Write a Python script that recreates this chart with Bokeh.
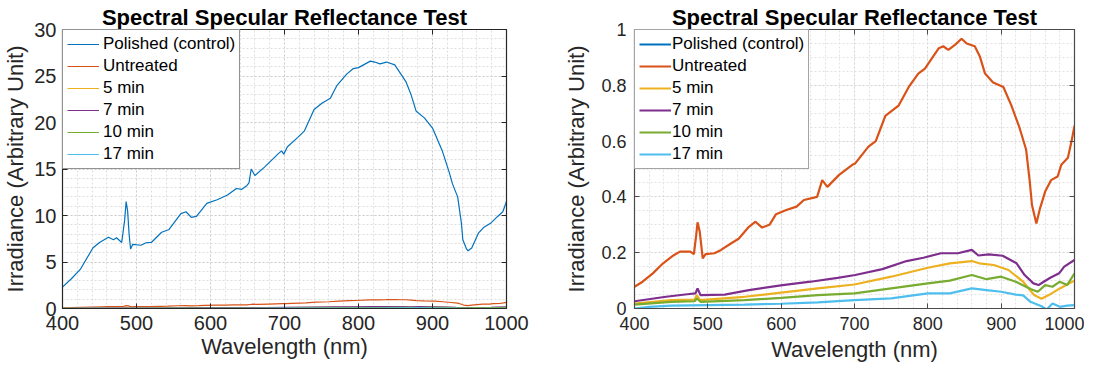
import numpy as np
from bokeh.plotting import figure
from bokeh.layouts import row
from bokeh.models import FixedTicker, LinearAxis, Range1d
from bokeh.embed import file_html
from bokeh.resources import INLINE

# ---------------- data ----------------
polished_wl = [400, 412, 424, 441, 450, 462, 469, 473, 480, 484, 486, 488, 490, 492, 495, 506, 513, 520,
               534, 544, 560, 567, 574, 581, 595, 609, 623, 635, 642, 649, 652, 655, 660, 673, 691, 696,
               699, 704, 718, 727, 740, 751, 762, 771, 784, 793, 800, 816, 822, 829, 838, 849, 864, 871,
               878, 889, 900, 913, 922, 927, 934, 939, 941, 946, 948, 953, 962, 969, 979, 988, 995, 1000]
polished = [2.3, 3.2, 4.2, 6.5, 7.1, 7.67, 7.4, 7.6, 7.1, 9.5, 11.5, 10.5, 8.0, 6.4, 6.9, 6.8, 7.07, 7.1,
            8.2, 8.5, 10.2, 10.4, 9.8, 9.9, 11.3, 11.7, 12.2, 12.9, 12.8, 13.2, 13.5, 15.0, 14.3, 15.2, 16.6, 16.95,
            16.6, 17.4, 18.4, 19.1, 21.4, 22.1, 22.6, 24.0, 25.2, 25.8, 25.9, 26.6, 26.5, 26.3, 26.5, 26.2, 24.4, 23.0,
            21.2, 20.5, 19.4, 17.0, 14.8, 13.4, 12.0, 9.2, 7.4, 6.4, 6.2, 6.5, 8.1, 8.7, 9.2, 9.9, 10.4, 11.5]

untreated_wl = [400, 411, 425, 439, 453, 462, 476, 481, 484, 486, 489, 493, 497, 509, 518, 532, 542, 556,
                565, 574, 584, 593, 607, 621, 631, 649, 656, 663, 679, 697, 701, 719, 729, 742, 760, 774,
                787, 796, 815, 821, 828, 837, 846, 853, 864, 871, 878, 889, 903, 914, 925, 934, 939, 942,
                948, 953, 960, 968, 977, 982, 991, 996, 1000]
untreated = [0.078, 0.096, 0.126, 0.162, 0.19, 0.204, 0.204, 0.195, 0.26, 0.309, 0.275, 0.18, 0.195, 0.198,
             0.21, 0.234, 0.25, 0.293, 0.311, 0.29, 0.30, 0.338, 0.353, 0.365, 0.389, 0.40, 0.46, 0.436, 0.479,
             0.515, 0.52, 0.58, 0.60, 0.69, 0.727, 0.794, 0.842, 0.86, 0.933, 0.94, 0.927, 0.945, 0.967, 0.95,
             0.94, 0.903, 0.842, 0.81, 0.794, 0.727, 0.648, 0.57, 0.455, 0.371, 0.305, 0.359, 0.419, 0.46,
             0.473, 0.515, 0.54, 0.60, 0.655]

min5_wl = [400, 450, 482, 485, 489, 550, 600, 650, 700, 750, 800, 830, 860, 870, 890, 910, 930, 945,
           955, 965, 980, 1000]
min5 = [0.018, 0.03, 0.032, 0.048, 0.03, 0.042, 0.057, 0.072, 0.086, 0.114, 0.146, 0.162, 0.17, 0.162,
        0.156, 0.138, 0.096, 0.048, 0.035, 0.048, 0.072, 0.10]

min7_wl = [400, 443, 472, 483, 486, 490, 523, 556, 602, 640, 677, 701, 738, 771, 794, 818, 841, 860,
           869, 883, 902, 921, 932, 944, 951, 958, 967, 979, 986, 1000]
min7 = [0.026, 0.042, 0.051, 0.054, 0.072, 0.048, 0.05, 0.066, 0.084, 0.096, 0.11, 0.12, 0.141, 0.17,
        0.182, 0.198, 0.198, 0.21, 0.19, 0.194, 0.189, 0.162, 0.12, 0.09, 0.084, 0.096, 0.11, 0.126, 0.15, 0.174]

min10_wl = [400, 450, 482, 485, 490, 550, 600, 650, 700, 750, 800, 830, 860, 880, 900, 920, 940, 950,
            960, 970, 980, 990, 1000]
min10 = [0.014, 0.024, 0.026, 0.036, 0.024, 0.03, 0.038, 0.048, 0.054, 0.072, 0.09, 0.10, 0.12, 0.105,
         0.114, 0.096, 0.07, 0.06, 0.084, 0.078, 0.096, 0.084, 0.126]

min17_wl = [400, 420, 450, 500, 550, 600, 650, 700, 750, 800, 830, 860, 880, 900, 920, 930, 940, 955,
            962, 970, 980, 990, 1000]
min17 = [0.0, 0.006, 0.01, 0.012, 0.014, 0.017, 0.022, 0.03, 0.036, 0.054, 0.054, 0.072, 0.066, 0.06,
         0.05, 0.047, 0.024, 0.008, -0.004, 0.018, 0.006, 0.01, 0.012]

names = ["Polished (control)", "Untreated", "5 min", "7 min", "10 min", "17 min"]
colors = ["#0072BD", "#D95319", "#EDB120", "#7E2F8E", "#77AC30", "#4DBEEE"]
series = [(polished_wl, polished), (untreated_wl, untreated), (min5_wl, min5),
          (min7_wl, min7), (min10_wl, min10), (min17_wl, min17)]

x_ticks = [400, 500, 600, 700, 800, 900, 1000]
y1_ticks = [0, 5, 10, 15, 20, 25, 30]
y2_ticks = [0, 0.2, 0.4, 0.6, 0.8, 1]
y2_labels = {0: "0", 0.2: "0.2", 0.4: "0.4", 0.6: "0.6", 0.8: "0.8", 1: "1"}

TITLE = "Spectral Specular Reflectance Test"
FONT = "Liberation Sans"
TXT = "#262626"


def build(width, height, borders, yrange, yticks, yminor, lw, tick_size, lab_size, leg_size,
          frame_color, grid_major, grid_minor, title_size, std, leg_standoff, ylabel_over=None):
    left, right, top, bottom = borders
    p = figure(width=width, height=height, output_backend="svg", toolbar_location=None,
               x_range=Range1d(400, 1000), y_range=Range1d(*yrange),
               min_border_left=left, min_border_right=right, min_border_top=top,
               min_border_bottom=bottom, background_fill_color="white",
               border_fill_color="white", outline_line_color=frame_color, outline_line_width=1.2)
    p.title.text = TITLE
    p.title.align = "center"
    p.title.text_font = FONT
    p.title.text_font_size = f"{title_size}px"
    p.title.text_font_style = "bold"
    p.title.text_color = "black"
    p.title.standoff = 0

    for (wl, v), nm, c in zip(series, names, colors):
        p.line(wl, v, line_color=c, line_width=lw, legend_label=nm)

    xt = FixedTicker(ticks=x_ticks, minor_ticks=list(np.arange(400, 1001, 20)))
    yt = FixedTicker(ticks=yticks, minor_ticks=yminor)
    p.xaxis.ticker = xt
    p.yaxis.ticker = yt
    p.xgrid.ticker = xt
    p.ygrid.ticker = yt
    for g in (p.xgrid, p.ygrid):
        g.grid_line_color = grid_major
        g.grid_line_dash = "2 2"
        g.grid_line_width = 1
        g.minor_grid_line_color = grid_minor
        g.minor_grid_line_dash = "2 2"
        g.minor_grid_line_width = 1

    p.xaxis.axis_label = "Wavelength (nm)"
    p.yaxis.axis_label = "Irradiance (Arbitrary Unit)"
    if ylabel_over:
        p.yaxis.major_label_overrides = ylabel_over
    for ax in (p.xaxis, p.yaxis):
        ax.axis_line_color = frame_color
        ax.major_tick_line_color = frame_color
        ax.major_tick_in = 5
        ax.major_tick_out = 0
        ax.minor_tick_in = 0
        ax.minor_tick_out = 0
        ax.major_label_text_font = FONT
        ax.major_label_text_font_size = f"{tick_size}px"
        ax.major_label_text_color = TXT
        ax.axis_label_text_font = FONT
        ax.axis_label_text_font_size = f"{lab_size}px"
        ax.axis_label_text_font_style = "normal"
        ax.axis_label_text_color = TXT
    xs1, xs2, ys1, ys2 = std
    p.xaxis.major_label_standoff = xs1
    p.xaxis.axis_label_standoff = xs2
    p.yaxis.major_label_standoff = ys1
    p.yaxis.axis_label_standoff = ys2

    # mirrored ticks on top and right (box on), without labels
    for loc, tk in (("above", xt), ("right", yt)):
        ax = LinearAxis(ticker=tk, major_label_text_font_size="1px", major_label_text_color=None,
                        major_label_standoff=0, major_tick_in=5, major_tick_out=0,
                        minor_tick_in=0, minor_tick_out=0,
                        axis_line_color=frame_color, major_tick_line_color=frame_color)
        p.add_layout(ax, loc)

    lg = p.legend[0]
    lg.location = "top_left"
    lg.margin = 0
    lg.padding = 4
    lg.spacing = 2
    lg.glyph_width = 32
    lg.glyph_height = 20
    lg.label_height = 20
    lg.label_standoff = leg_standoff
    lg.label_text_font = FONT
    lg.label_text_font_size = f"{leg_size}px"
    lg.label_text_color = "black"
    lg.border_line_color = frame_color
    lg.border_line_width = 1.2
    lg.background_fill_color = "white"
    lg.background_fill_alpha = 1
    return p


# left: frame 450 x 283 at page (64, 34)
p1 = build(552, 365, (56, 46, 26, 56), (0, 30), y1_ticks, list(range(0, 31)), 1.2,
           20, 22, 17, "#262626", "#cfcfcf", "#dedede", 22, (7, 1, 6, 3), 4)
# right: frame 440 x 279 at page (642, 37)
p2 = build(532, 365, (82, 10, 29, 57), (0, 1), y2_ticks, list(np.round(np.arange(0, 1.001, 0.05), 2)), 2.2,
           18, 22, 17, "#4a4a4a", "#d6d6d6", "#e2e2e2", 22, (8, 4, 8, 9), 1, ylabel_over=y2_labels)

layout = row(p1, p2)
open("out.html", "w").write(file_html(layout, INLINE))
